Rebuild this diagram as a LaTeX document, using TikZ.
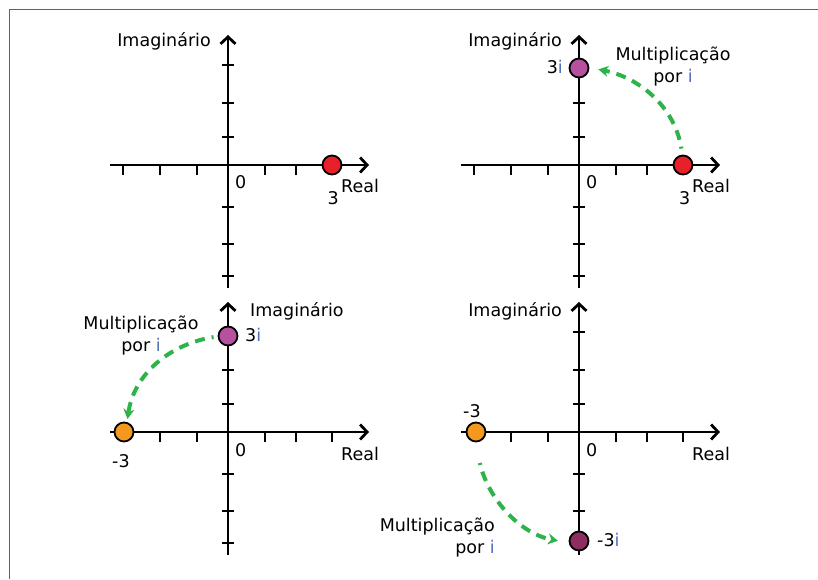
\documentclass[tikz,border=0pt]{standalone}
\usepackage{fontspec}
\setmainfont{DejaVu Sans}
\usetikzlibrary{arrows.meta}
\definecolor{framered}{RGB}{232,40,48}
\definecolor{dotred}{HTML}{E8202A}
\definecolor{dotpurple}{HTML}{B5519F}
\definecolor{dotorange}{HTML}{F4991F}
\definecolor{dotplum}{HTML}{8E2D60}
\definecolor{arrowgreen}{HTML}{2DB34A}
\definecolor{iblue}{HTML}{4F6DB8}
\tikzset{
  axisline/.style={line width=2.8pt, -{Straight Barb[length=7pt,width=15pt]}},
  tck/.style={line width=2.8pt},
  dot/.style={circle, draw=black, line width=1.8pt, minimum size=19pt,
              inner sep=0pt, outer sep=0pt},
  reddot/.style={dot, fill=dotred},
  purpledot/.style={dot, fill=dotpurple},
  orangedot/.style={dot, fill=dotorange},
  plumdot/.style={dot, fill=dotplum},
  arg/.style={-{Stealth[length=10pt,width=11pt]}, draw=arrowgreen, line width=4pt,
              dash pattern=on 10pt off 7pt, dash phase=8pt},
  lbl/.style={inner sep=0pt}
}
\newcommand{\ii}{\textcolor{iblue}{i}}

\begin{document}
\begin{tikzpicture}[x=1pt,y=1pt,font=\fontsize{17.5}{22}\selectfont]
  \useasboundingbox (0,0) rectangle (818,579);

  % frame
  \fill[framered] (8.6,0) rectangle (10.1,570.2);
  \fill[framered] (8.6,568.7) rectangle (818,570.2);

  % the four planes
  \foreach \ox/\oy/\k in {228/414/1, 579/414/2, 228/147/3, 579/147/4} {
    \begin{scope}[shift={(\ox,\oy)}]
      \draw[axisline] (-118,0) -- (141,0);
      \draw[axisline] (0,-123) -- (0,130);
      \foreach \x in {-105,-68,-31,37,68,104} {
        \draw[tck] (\x,0) -- (\x,-10);
      }
      \foreach \y in {100,62,28,-42,-79,-111} {
        \draw[tck] (-6,\y) -- (6,\y);
      }
      \node[lbl, anchor=base west] (zero\k) at (7,-24) {0};
      \node[lbl, anchor=base west] (real\k) at (113,-28) {Real};
    \end{scope}
  }

  % top left: 3
  \begin{scope}[shift={(228,414)}]
    \node[lbl, anchor=base east] (im1) at (-17,118) {Imaginário};
    \node[reddot] (r1) at (104,0) {};
    \node[lbl, anchor=base west] (n1) at (99.5,-40) {3};
  \end{scope}

  % top right: 3 times i
  \begin{scope}[shift={(579,414)}]
    \node[lbl, anchor=base east] (im2) at (-17,118) {Imaginário};
    \node[reddot] (r2) at (104,0) {};
    \node[purpledot] (p2) at (0,97) {};
    \node[lbl, anchor=base west] (n2) at (100,-40) {3};
    \node[lbl, anchor=base east] (ni2) at (-16,91) {3\ii};
    \node[lbl, align=center] (mul2) at (94,98.6) {Multiplicação\\por \ii};
    \draw[arg, shorten <=7pt, shorten >=10pt] (r2.93) to[out=99,in=-11] (p2.3);
  \end{scope}

  % bottom left: 3i times i
  \begin{scope}[shift={(228,147)}]
    \node[lbl, anchor=base west] (im3) at (22,116) {Imaginário};
    \node[purpledot] (p3) at (0,96) {};
    \node[orangedot] (o3) at (-104,0) {};
    \node[lbl, anchor=base west] (ni3) at (17,91) {3\ii};
    \node[lbl, anchor=base west] (n3) at (-116,-35) {-3};
    \node[lbl, align=center] (mul3) at (-87,96.9) {Multiplicação\\por \ii};
    \draw[arg, shorten <=5pt, shorten >=4pt] (p3.182) to[out=189,in=82] (o3.72);
  \end{scope}

  % bottom right: -3 times i
  \begin{scope}[shift={(579,147)}]
    \node[lbl, anchor=base east] (im4) at (-17,116) {Imaginário};
    \node[orangedot] (o4) at (-103,0) {};
    \node[plumdot] (m4) at (0,-109) {};
    \node[lbl, anchor=base west] (n4) at (-116,15) {-3};
    \node[lbl, anchor=base west] (ni4) at (18,-114) {-3\ii};
    \node[lbl, align=right, anchor=east] (mul4) at (-84,-105.8) {Multiplicação\\por \ii};
    \draw[arg, shorten <=22pt, shorten >=12pt] (o4.266) to[out=-78,in=169] (m4.193);
  \end{scope}
\end{tikzpicture}
\end{document}
